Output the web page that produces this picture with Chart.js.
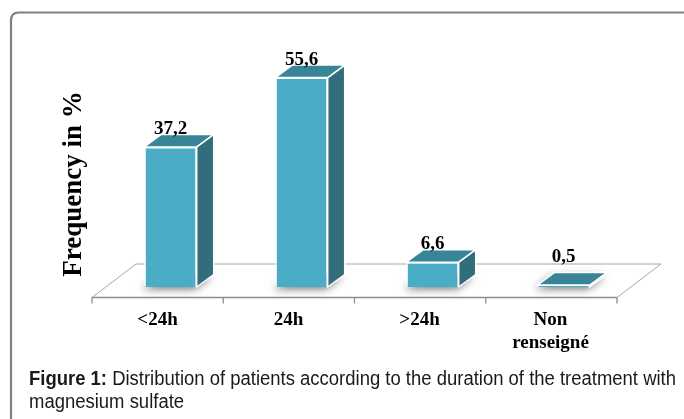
<!DOCTYPE html>
<html>
<head>
<meta charset="utf-8">
<script src="https://cdn.jsdelivr.net/npm/chart.js@4.4.1/dist/chart.umd.min.js"></script>
<style>
html,body{margin:0;padding:0;background:#fff;width:684px;height:419px;overflow:hidden;}
#wrap{position:relative;width:684px;height:419px;}
canvas{position:absolute;left:0;top:0;}
#cap{position:absolute;left:29px;top:367px;font-family:"Liberation Sans Narrow","Arial Narrow","Liberation Sans",sans-serif;font-size:19.5px;line-height:23px;color:#1a1a1a;white-space:nowrap;transform-origin:0 0;}
#cap b{font-weight:bold;}
</style>
</head>
<body>
<div id="wrap">
<canvas id="c" width="684" height="419"></canvas>
<div id="cap"><span id="l1"><b>Figure 1:</b> Distribution of patients according to the duration of the treatment with</span><br>magnesium sulfate</div>
</div>
<script>
const categories = ["<24h", "24h", ">24h", ["Non", "renseigné"]];
const values = [37.2, 55.6, 6.6, 0.5];
const valueLabels = ["37,2", "55,6", "6,6", "0,5"];
const yTitle = "Frequency in %";

// fit the caption's first line to the reference width
(function () {
  const l1 = document.getElementById("l1");
  const w = l1.getBoundingClientRect().width;
  if (w > 0) document.getElementById("cap").style.transform = "scaleX(" + (647 / w) + ")";
})();

const FRONT = "rgb(75,172,198)";
const TOP = "rgb(57,133,152)";
const SIDE = "rgb(50,109,124)";
const DX = 17, DY = -12.5;

function roundRect(ctx, x, y, w, h, r) {
  ctx.beginPath();
  ctx.moveTo(x + r, y);
  ctx.lineTo(x + w, y);
  ctx.lineTo(x + w, y + h);
  ctx.lineTo(x, y + h);
  ctx.lineTo(x, y + r);
  ctx.quadraticCurveTo(x, y, x + r, y);
}

const deco = {
  id: "deco",
  beforeDraw(chart) {
    const ctx = chart.ctx, a = chart.chartArea;
    ctx.save();
    ctx.fillStyle = "#fff";
    ctx.fillRect(0, 0, chart.width, chart.height);
    // outer frame
    ctx.strokeStyle = "#808080";
    ctx.lineWidth = 2.2;
    roundRect(ctx, 11, 12.5, 720, 460, 8);
    ctx.stroke();
    // floor
    const fy = a.bottom + 10.5, by = a.bottom - 23;
    const fl = a.left - 13, fr = a.right - 12, off = 44;
    ctx.strokeStyle = "#a6a6a6";
    ctx.lineWidth = 1;
    ctx.beginPath();
    ctx.moveTo(fl, fy); ctx.lineTo(fl + off, by); ctx.lineTo(fr + off, by); ctx.lineTo(fr, fy);
    ctx.stroke();
    ctx.strokeStyle = "#8c8c8c";
    ctx.lineWidth = 1.3;
    ctx.beginPath();
    ctx.moveTo(fl, fy); ctx.lineTo(fr, fy);
    const n = categories.length;
    for (let i = 0; i <= n; i++) {
      const x = fl + (fr - fl) * i / n;
      ctx.moveTo(x, fy); ctx.lineTo(x, fy + 6);
    }
    ctx.stroke();
    ctx.restore();
  },
  beforeDatasetsDraw(chart) {
    const ctx = chart.ctx;
    const meta = chart.getDatasetMeta(0);
    meta.data.forEach(b => {
      const l = b.x - b.width / 2, r = b.x + b.width / 2, bt = b.base;
      ctx.save();
      ctx.shadowColor = "rgba(0,0,0,0.55)";
      ctx.shadowBlur = 8;
      ctx.shadowOffsetX = -2;
      ctx.shadowOffsetY = 2;
      ctx.fillStyle = SIDE;
      ctx.beginPath();
      ctx.moveTo(l, bt); ctx.lineTo(r, bt); ctx.lineTo(r + DX, bt + DY); ctx.lineTo(l + DX, bt + DY);
      ctx.closePath();
      ctx.fill();
      ctx.restore();
    });
  },
  afterDatasetsDraw(chart) {
    const ctx = chart.ctx;
    const meta = chart.getDatasetMeta(0);
    ctx.save();
    ctx.strokeStyle = "#ffffff";
    ctx.lineWidth = 1.5;
    ctx.lineJoin = "round";
    meta.data.forEach(b => {
      const l = b.x - b.width / 2, r = b.x + b.width / 2, t = b.y, bt = b.base;
      ctx.fillStyle = SIDE;
      ctx.beginPath();
      ctx.moveTo(r, t); ctx.lineTo(r + DX, t + DY); ctx.lineTo(r + DX, bt + DY); ctx.lineTo(r, bt);
      ctx.closePath(); ctx.fill(); ctx.stroke();
      ctx.fillStyle = TOP;
      ctx.beginPath();
      ctx.moveTo(l, t); ctx.lineTo(l + DX, t + DY); ctx.lineTo(r + DX, t + DY); ctx.lineTo(r, t);
      ctx.closePath(); ctx.fill(); ctx.stroke();
    });
    ctx.restore();
  },
  afterDraw(chart) {
    const ctx = chart.ctx, a = chart.chartArea;
    const meta = chart.getDatasetMeta(0);
    const xs = chart.scales.x;
    ctx.save();
    ctx.fillStyle = "#000";
    ctx.textAlign = "center";
    ctx.font = "bold 19px 'Liberation Serif', 'Times New Roman', serif";
    ctx.textBaseline = "alphabetic";
    meta.data.forEach((b, i) => {
      const y = Math.min(b.y - 13, b.base - 25);
      ctx.fillText(valueLabels[i], b.x, y);
    });
    ctx.textBaseline = "middle";
    categories.forEach((c, i) => {
      const x = xs.getPixelForValue(i) - 13;
      const lines = Array.isArray(c) ? c : [c];
      lines.forEach((s, k) => ctx.fillText(s, x, a.bottom + 33 + k * 23));
    });
    ctx.translate(74, 184);
    ctx.rotate(-Math.PI / 2);
    ctx.font = "bold 27px 'Liberation Serif', 'Times New Roman', serif";
    ctx.textBaseline = "middle";
    ctx.fillText(yTitle, 0, 0);
    ctx.restore();
  }
};

new Chart(document.getElementById("c"), {
  type: "bar",
  data: {
    labels: categories,
    datasets: [{
      data: values,
      backgroundColor: FRONT,
      borderColor: "#ffffff",
      borderWidth: 1.5,
      barPercentage: 0.4,
      categoryPercentage: 1
    }]
  },
  options: {
    responsive: false,
    devicePixelRatio: 1,
    animation: false,
    layout: { padding: { left: 105, right: 55, top: 61, bottom: 132 } },
    plugins: { legend: { display: false }, tooltip: { enabled: false } },
    scales: {
      x: { display: false },
      y: { display: false, min: 0, max: 60 }
    }
  },
  plugins: [deco]
});
</script>
</body>
</html>
